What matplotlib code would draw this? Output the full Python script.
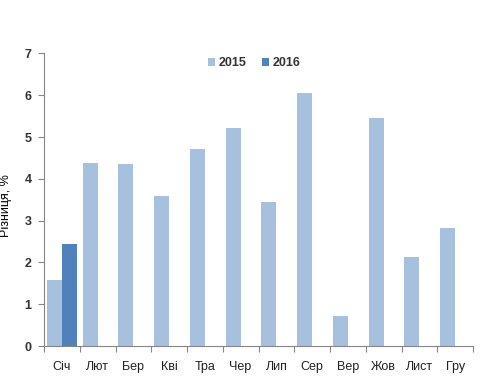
import numpy as np
import matplotlib
matplotlib.use("Agg")
import matplotlib.pyplot as plt

months = ["Січ", "Лют", "Бер", "Кві", "Тра", "Чер", "Лип", "Сер", "Вер", "Жов", "Лист", "Гру"]
vals_2015 = [1.57, 4.37, 4.35, 3.60, 4.71, 5.21, 3.44, 6.05, 0.73, 5.45, 2.14, 2.82]
vals_2016 = [2.43, np.nan, np.nan, np.nan, np.nan, np.nan, np.nan, np.nan, np.nan, np.nan, np.nan, np.nan]

plt.rcParams['font.family'] = ['Liberation Sans', 'DejaVu Sans']

fig = plt.figure(figsize=(5, 3.79), dpi=100)
ax = fig.add_axes([0.088, 0.087, 0.858, 0.772])

x = np.arange(len(months))
w = 0.42
ax.bar(x - w / 2, vals_2015, w, color='#a7c0de', label='2015')
ax.bar(x + w / 2, vals_2016, w, color='#4f81bd', label='2016')

ax.set_xlim(-0.5, 11.5)
ax.set_ylim(0, 7)
ax.set_yticks(range(8))

# category ticks at boundaries, labels in the middle
ax.set_xticks(np.arange(-0.5, 12, 1))
ax.set_xticklabels([])
ax.set_xticks(x, minor=True)
ax.set_xticklabels(months, minor=True)
ax.tick_params(axis='x', which='minor', length=0, pad=11, labelsize=9, colors='#222222')
ax.tick_params(axis='x', which='major', length=4, color='#868686')
ax.tick_params(axis='y', length=4, color='#868686', labelsize=9, pad=5)
for lab in ax.get_yticklabels():
    lab.set_color('#333333')
    lab.set_fontweight('bold')

for s in ['top', 'right']:
    ax.spines[s].set_visible(False)
for s in ['left', 'bottom']:
    ax.spines[s].set_color('#868686')

ax.set_ylabel('Різниця, %', fontsize=9)
ax.yaxis.set_label_coords(-0.075, 0.48)

leg = ax.legend(loc='upper center', bbox_to_anchor=(0.49, 1.025), ncol=2, frameon=False,
                handlelength=0.6, handleheight=0.6, handletextpad=0.3, columnspacing=1.2,
                prop={'size': 9, 'weight': 'bold'})
for t in leg.get_texts():
    t.set_color('#333333')

fig.savefig('out.png')
